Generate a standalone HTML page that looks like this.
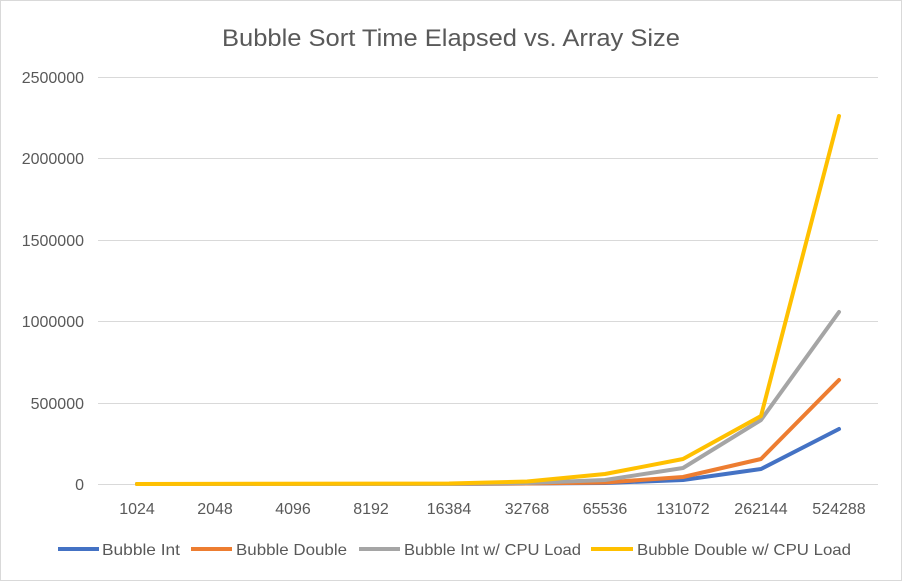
<!DOCTYPE html>
<html><head><style>
body{margin:0;background:#fff;}
svg{display:block;font-family:"Liberation Sans",sans-serif;}
</style></head><body>
<svg width="902" height="581" xmlns="http://www.w3.org/2000/svg">
<rect x="0.5" y="0.5" width="901" height="580" fill="#fff" stroke="#d9d9d9"/>
<text x="222" y="46" font-size="24" fill="#595959" textLength="458" lengthAdjust="spacingAndGlyphs">Bubble Sort Time Elapsed vs. Array Size</text>
<g stroke="#d9d9d9" stroke-width="1">
<line x1="98" y1="77.5" x2="878" y2="77.5"/>
<line x1="98" y1="158.5" x2="878" y2="158.5"/>
<line x1="98" y1="240.5" x2="878" y2="240.5"/>
<line x1="98" y1="321.5" x2="878" y2="321.5"/>
<line x1="98" y1="403.5" x2="878" y2="403.5"/>
<line x1="98" y1="484.5" x2="878" y2="484.5"/>
</g>
<g font-size="16" fill="#595959" text-anchor="end">
<text x="84" y="83">2500000</text>
<text x="84" y="164">2000000</text>
<text x="84" y="246">1500000</text>
<text x="84" y="327">1000000</text>
<text x="84" y="409">500000</text>
<text x="84" y="490">0</text>
</g>
<g font-size="16" fill="#595959" text-anchor="middle">
<text x="137" y="514">1024</text><text x="215" y="514">2048</text><text x="293" y="514">4096</text>
<text x="371" y="514">8192</text><text x="449" y="514">16384</text><text x="527" y="514">32768</text>
<text x="605" y="514">65536</text><text x="683" y="514">131072</text><text x="761" y="514">262144</text>
<text x="839" y="514">524288</text>
</g>
<g fill="none" stroke-width="4" stroke-linejoin="round" stroke-linecap="round">
<polyline stroke="#4472c4" points="137,484 449,484 527,483.5 605,483 683,480 761,469 839,429"/>
<polyline stroke="#ed7d31" points="137,484 449,484 527,483.5 605,482.5 683,477 761,459 839,380"/>
<polyline stroke="#a5a5a5" points="137,484 449,484 527,483 605,480 683,468 761,420 839,312"/>
<polyline stroke="#ffc000" points="137,484 449,483.5 527,481.5 605,474 683,459 761,416 839,116"/>
</g>
<g stroke-width="4">
<line x1="58" y1="549" x2="99" y2="549" stroke="#4472c4"/>
<line x1="191" y1="549" x2="232" y2="549" stroke="#ed7d31"/>
<line x1="359" y1="549" x2="400" y2="549" stroke="#a5a5a5"/>
<line x1="591" y1="549" x2="633" y2="549" stroke="#ffc000"/>
</g>
<g font-size="16" fill="#595959">
<text x="102" y="555" textLength="78" lengthAdjust="spacingAndGlyphs">Bubble Int</text>
<text x="236" y="555" textLength="111" lengthAdjust="spacingAndGlyphs">Bubble Double</text>
<text x="404" y="555" textLength="177" lengthAdjust="spacingAndGlyphs">Bubble Int w/ CPU Load</text>
<text x="637" y="555" textLength="214" lengthAdjust="spacingAndGlyphs">Bubble Double w/ CPU Load</text>
</g>
</svg>
</body></html>
